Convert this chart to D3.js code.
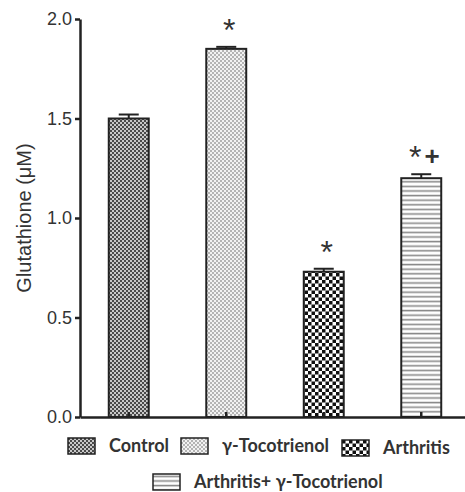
<!DOCTYPE html>
<html>
<head>
<meta charset="utf-8">
<script src="https://cdn.jsdelivr.net/npm/d3@7"></script>
<style>
  body { margin: 0; background: #fff; }
  .axis path, .axis line { stroke: #222; stroke-width: 2.5px; }
  .axis text { font-family: "Liberation Sans", Arial, sans-serif; font-size: 18px; fill: #333; }
  .legend text { font-family: Lato, "Open Sans", sans-serif; font-weight: 700; font-size: 18px; fill: #333; }
</style>
</head>
<body>
<div id="chart-area"></div>
<script>
// data
var groups = ['Control', 'γ-Tocotrienol', 'Arthritis', 'Arthritis+ γ-Tocotrienol'];
var means = [1.50, 1.85, 0.73, 1.20];
var sems = [0.02, 0.01, 0.015, 0.02];
var marks = ['', '*', '*', '*+'];
var yTicks = [0, 0.5, 1.0, 1.5, 2.0];

var width = 465, height = 492;
var patternIds = ['p-control', 'p-toco', 'p-arth', 'p-combo'];

var svg = d3.select('#chart-area')
  .append('svg')
    .attr('width', width)
    .attr('height', height);

// patterns
var defs = svg.append('defs');
function checker(id, size, sq, bg, fg){
  var p = defs.append('pattern')
    .attr('id', id)
    .attr('patternUnits', 'userSpaceOnUse')
    .attr('width', size)
    .attr('height', size);
  p.append('rect').attr('width', size).attr('height', size).attr('fill', bg);
  p.append('rect').attr('width', sq).attr('height', sq).attr('fill', fg);
  p.append('rect').attr('x', size/2).attr('y', size/2).attr('width', sq).attr('height', sq).attr('fill', fg);
}
checker('p-control', 4, 2, '#c8c8c8', '#4a4a4a');
checker('p-toco', 4, 2, '#f2f2f2', '#b4b4b4');
checker('p-arth', 7, 3.5, '#ffffff', '#111111');
var lines = defs.append('pattern')
  .attr('id', 'p-combo')
  .attr('patternUnits', 'userSpaceOnUse')
  .attr('width', 4)
  .attr('height', 4.6);
lines.append('rect').attr('width', 4).attr('height', 4.6).attr('fill', '#fff');
lines.append('rect').attr('y', 1.6).attr('width', 4).attr('height', 1.6).attr('fill', '#8a8a8a');

// scales
var x = d3.scaleBand()
  .domain(groups)
  .range([80, 470])
  .paddingInner(0.59)
  .paddingOuter(0.295);
var y = d3.scaleLinear()
  .domain([0, 2])
  .range([417, 19]);

// bars
var bars = svg.selectAll('.bar').data(groups).enter().append('g').attr('class', 'bar');
bars.append('rect')
  .attr('x', function(d){ return x(d) })
  .attr('y', function(d, i){ return y(means[i]) })
  .attr('width', x.bandwidth())
  .attr('height', function(d, i){ return y(0) - y(means[i]) })
  .attr('fill', function(d, i){ return 'url(#' + patternIds[i] + ')' })
  .attr('stroke', '#222')
  .attr('stroke-width', 2);

// error bars (upper only)
bars.append('line')
  .attr('x1', function(d){ return x(d) + x.bandwidth()/2 })
  .attr('x2', function(d){ return x(d) + x.bandwidth()/2 })
  .attr('y1', function(d, i){ return y(means[i]) })
  .attr('y2', function(d, i){ return y(means[i] + sems[i]) })
  .attr('stroke', '#222').attr('stroke-width', 2);
bars.append('line')
  .attr('x1', function(d){ return x(d) + x.bandwidth()/2 - 10 })
  .attr('x2', function(d){ return x(d) + x.bandwidth()/2 + 10 })
  .attr('y1', function(d, i){ return y(means[i] + sems[i]) })
  .attr('y2', function(d, i){ return y(means[i] + sems[i]) })
  .attr('stroke', '#222').attr('stroke-width', 2);

// significance marks
var sig = bars.append('text')
  .attr('x', function(d){ return x(d) + x.bandwidth()/2 + 3 })
  .attr('y', function(d, i){ return y(means[i] + sems[i]) - 6 })
  .attr('text-anchor', 'middle')
  .attr('font-family', '"Liberation Sans", Arial, sans-serif')
  .attr('fill', '#333');
sig.each(function(d, i){
  var t = d3.select(this);
  marks[i].split('').forEach(function(c){
    if (c === '*') t.append('tspan').attr('font-size', '32px').text('*');
    else t.append('tspan').attr('font-size', '26px').attr('font-weight', 'bold').attr('fill', '#333').attr('dx', 3).attr('dy', -3).text(c);
  });
});

// axes
var yAxisCall = d3.axisLeft(y)
  .tickValues(yTicks)
  .tickFormat(d3.format('.1f'))
  .tickSizeInner(5)
  .tickSizeOuter(0)
  .tickPadding(3);
svg.append('g')
  .attr('class', 'axis y-axis')
  .attr('transform', 'translate(80,0)')
  .call(yAxisCall);

var xAxisCall = d3.axisBottom(x)
  .tickSizeInner(-5)
  .tickSizeOuter(0)
  .tickFormat('');
svg.append('g')
  .attr('class', 'axis x-axis')
  .attr('transform', 'translate(0,' + y(0) + ')')
  .call(xAxisCall);

// Y label
svg.append('text')
  .attr('x', -218)
  .attr('y', 31)
  .attr('transform', 'rotate(-90)')
  .attr('text-anchor', 'middle')
  .attr('font-family', '"Liberation Sans", Arial, sans-serif')
  .attr('font-size', '20px')
  .attr('fill', '#333')
  .text('Glutathione (μM)');

// legend
var legendPos = [[68, 438], [181, 438], [342, 440], [153, 474]];
var legend = svg.append('g').attr('class', 'legend');
groups.forEach(function(g, i){
  var row = legend.append('g')
    .attr('transform', 'translate(' + legendPos[i][0] + ',' + legendPos[i][1] + ')');
  row.append('rect')
    .attr('width', 27)
    .attr('height', 16)
    .attr('fill', 'url(#' + patternIds[i] + ')')
    .attr('stroke', '#222')
    .attr('stroke-width', 1.5);
  row.append('text')
    .attr('x', 41)
    .attr('y', 14)
    .text(g);
});
</script>
</body>
</html>
